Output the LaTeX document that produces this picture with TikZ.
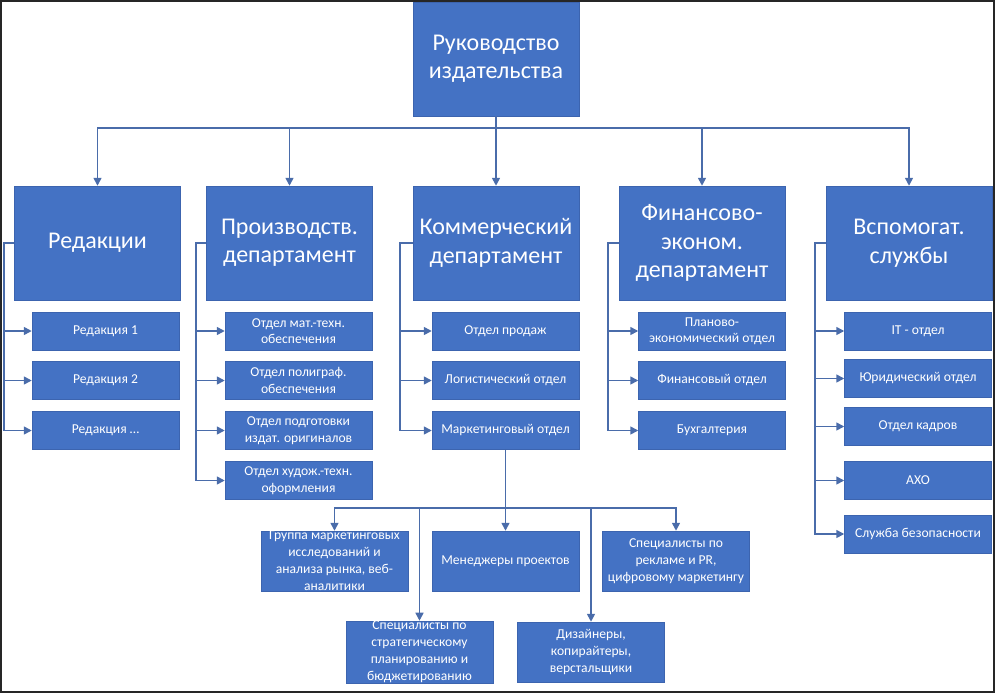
\documentclass[tikz,border=0pt]{standalone}
\usepackage{fontspec}
\setmainfont{Carlito}
\usetikzlibrary{arrows.meta}
\definecolor{boxblue}{RGB}{68,114,196}
\definecolor{boxedge}{RGB}{60,100,175}
\definecolor{conncol}{RGB}{74,108,170}
\tikzset{
  box/.style={fill=boxblue, draw=boxedge, line width=0.5pt, text=white, align=center, inner sep=0pt},
  bigbox/.style={box, minimum width=166pt, minimum height=114pt, font=\fontsize{24}{28.5}\selectfont},
  childbox/.style={box, minimum width=147pt, minimum height=38pt, font=\fontsize{13.6}{16.5}\selectfont},
  lowbox/.style={box, minimum width=147pt, minimum height=60pt, font=\fontsize{13.6}{17}\selectfont},
  conn/.style={draw=conncol, line width=1.6pt},
  arr/.style={conn, -{Triangle[length=8pt,width=8pt]}},
}
\begin{document}
\begin{tikzpicture}[x=1pt,y=-1pt]
\useasboundingbox (0,0) rectangle (995,693);
% top
\node[bigbox] (top) at (496,59) {Руководство\\издательства};
% level 1
\node[bigbox] (red)  at (97.5,243) {Редакции};
\node[bigbox] (prod) at (289.5,243) {Производств.\\департамент};
\node[bigbox] (comm) at (496,243) {Коммерческий\\департамент};
\node[bigbox] (fin)  at (702,243) {Финансово-\\эконом.\\департамент};
\node[bigbox] (vsp)  at (909,243) {Вспомогат.\\службы};
% Редакции children
\node[childbox] (r1) at (105.5,331) {Редакция 1};
\node[childbox] (r2) at (105.5,380.5) {Редакция 2};
\node[childbox] (r3) at (105.5,430.5) {Редакция \dots};
% Производств children
\node[childbox] (p1) at (298.5,331) {Отдел мат.-техн.\\обеспечения};
\node[childbox] (p2) at (298.5,380.5) {Отдел полиграф.\\обеспечения};
\node[childbox] (p3) at (298.5,430.5) {Отдел подготовки\\издат. оригиналов};
\node[childbox] (p4) at (298.5,480.5) {Отдел худож.-техн.\\оформления};
% Коммерческий children
\node[childbox] (c1) at (505.5,331) {Отдел продаж};
\node[childbox] (c2) at (505.5,380.5) {Логистический отдел};
\node[childbox] (c3) at (505.5,430.5) {Маркетинговый отдел};
% Финансово children
\node[childbox] (f1) at (712,331) {Планово-\\экономический отдел};
\node[childbox] (f2) at (712,380.5) {Финансовый отдел};
\node[childbox] (f3) at (712,430.5) {Бухгалтерия};
% Вспомогат children
\node[childbox] (v1) at (918,331) {IT - отдел};
\node[childbox] (v2) at (918,378.5) {Юридический отдел};
\node[childbox] (v3) at (918,426.5) {Отдел кадров};
\node[childbox] (v4) at (918,480.5) {АХО};
\node[childbox] (v5) at (918,534) {Служба безопасности};
% Marketing sub-units
\node[lowbox] (g1) at (334.5,561) {Группа маркетинговых\\исследований и\\анализа рынка, веб-\\аналитики};
\node[lowbox] (g2) at (505.5,561) {Менеджеры проектов};
\node[lowbox] (g3) at (676,561) {Специалисты по\\рекламе и PR,\\цифровому маркетингу};
\node[lowbox] (g4) at (419.5,652) {Специалисты по\\стратегическому\\планированию и\\бюджетированию};
\node[lowbox] (g5) at (591,652) {Дизайнеры,\\копирайтеры,\\верстальщики};
% bus coordinates
\coordinate (topbus) at (0,128);
\coordinate (redbus) at (4,243);
\coordinate (prodbus) at (196,243);
\coordinate (commbus) at (400,243);
\coordinate (finbus) at (608,243);
\coordinate (vspbus) at (815,243);
\coordinate (mbus) at (0,508);
% top connectors
\foreach \n in {red,prod,comm,fin,vsp}
  \draw[arr] (top.south) -- (top.south |- topbus) -| (\n.north);
% side connectors
\foreach \n in {r1,r2,r3}
  \draw[arr] (red.west) -- (redbus) |- (\n.west);
\foreach \n in {p1,p2,p3,p4}
  \draw[arr] (prod.west) -- (prodbus) |- (\n.west);
\foreach \n in {c1,c2,c3}
  \draw[arr] (comm.west) -- (commbus) |- (\n.west);
\foreach \n in {f1,f2,f3}
  \draw[arr] (fin.west) -- (finbus) |- (\n.west);
\foreach \n in {v1,v2,v3,v4,v5}
  \draw[arr] (vsp.west) -- (vspbus) |- (\n.west);
% marketing connectors
\foreach \n in {g1,g2,g3,g4,g5}
  \draw[arr] (c3.south) -- (c3.south |- mbus) -| (\n.north);
% frame
\draw[line width=2pt, black!85] (1,1) rectangle (994,692);
\end{tikzpicture}
\end{document}
